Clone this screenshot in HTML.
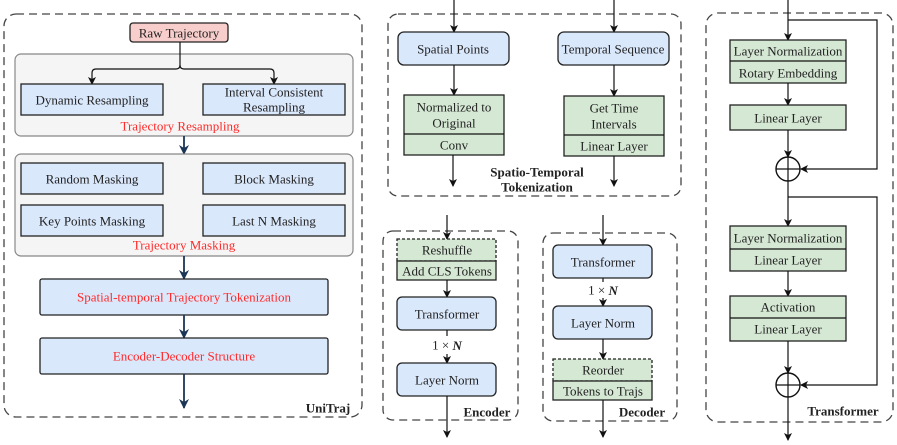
<!DOCTYPE html>
<html><head><meta charset="utf-8"><style>
body{margin:0;background:#fff}
svg{display:block}
text{font-family:"Liberation Serif",serif;font-size:13px;fill:#222;text-anchor:middle;dominant-baseline:central}
.b{font-weight:bold}
.r{fill:#ff2a2a}
.dash{fill:none;stroke:#444;stroke-width:1.3;stroke-dasharray:8,5}
.blue{fill:#dae8fc;stroke:#222;stroke-width:1.3}
.green{fill:#d5e8d4;stroke:#222;stroke-width:1.3}
.grp{fill:#f5f5f5;stroke:#888;stroke-width:1.2}
.ln{stroke:#111;stroke-width:1.2;fill:none}
.nv{stroke:#1b3556;stroke-width:1.8;fill:none}
</style></head><body>
<svg width="897" height="445" viewBox="0 0 897 445" xmlns="http://www.w3.org/2000/svg">
<defs>
<marker id="a" markerWidth="8" markerHeight="8" refX="7" refY="4" orient="auto" markerUnits="userSpaceOnUse"><path d="M0,0 L8,4 L0,8 L2,4Z" fill="#111"/></marker>
<marker id="n" markerWidth="10" markerHeight="10" refX="9" refY="5" orient="auto" markerUnits="userSpaceOnUse"><path d="M0,0 L10,5 L0,10 L3,5Z" fill="#1b3556"/></marker>
</defs>

<!-- LEFT PANEL -->
<rect class="dash" x="4" y="14" width="358" height="403" rx="12"/>
<rect x="130" y="23" width="98" height="19" rx="3" fill="#f8cecc" stroke="#222" stroke-width="1.3"/>
<text x="179" y="33">Raw Trajectory</text>
<rect class="grp" x="15" y="54" width="338" height="82" rx="6"/>
<path class="ln" d="M180,42 V65 Q180,69 176,69 H96 Q92,69 92,73 V84" marker-end="url(#a)"/>
<path class="ln" d="M180,65 Q180,69 184,69 H270 Q274,69 274,73 V84" marker-end="url(#a)"/>
<rect class="blue" x="21" y="84" width="142" height="31"/>
<text x="92" y="100">Dynamic Resampling</text>
<rect class="blue" x="203" y="84" width="142" height="31"/>
<text x="274" y="92">Interval Consistent</text>
<text x="274" y="107">Resampling</text>
<text class="r" x="180" y="126">Trajectory Resampling</text>
<path class="nv" d="M184,136 V154" marker-end="url(#n)"/>
<rect class="grp" x="15" y="154" width="338" height="102" rx="6"/>
<rect class="blue" x="21" y="163" width="142" height="31"/>
<text x="92" y="179">Random Masking</text>
<rect class="blue" x="203" y="163" width="142" height="31"/>
<text x="274" y="179">Block Masking</text>
<rect class="blue" x="21" y="205" width="142" height="31"/>
<text x="92" y="221">Key Points Masking</text>
<rect class="blue" x="203" y="205" width="142" height="31"/>
<text x="274" y="221">Last N Masking</text>
<text class="r" x="184" y="245">Trajectory Masking</text>
<path class="nv" d="M184,256 V279" marker-end="url(#n)"/>
<rect class="blue" x="40" y="279" width="288" height="36" rx="2"/>
<text class="r" x="184" y="297">Spatial-temporal Trajectory Tokenization</text>
<path class="nv" d="M184,315 V338" marker-end="url(#n)"/>
<rect class="blue" x="40" y="338" width="288" height="36" rx="2"/>
<text class="r" x="184" y="356">Encoder-Decoder Structure</text>
<path class="nv" d="M184,374 V408" marker-end="url(#n)"/>
<text class="b" x="328" y="408">UniTraj</text>

<!-- MIDDLE TOP -->
<rect class="dash" x="388" y="14" width="293" height="182" rx="10"/>
<path class="ln" d="M454,0 V32" marker-end="url(#a)"/>
<path class="ln" d="M614,0 V32" marker-end="url(#a)"/>
<rect class="blue" x="398" y="32" width="111" height="33" rx="6"/>
<text x="453" y="49">Spatial Points</text>
<rect class="blue" x="558" y="32" width="111" height="33" rx="6"/>
<text x="613" y="49">Temporal Sequence</text>
<path class="ln" d="M454,65 V95" marker-end="url(#a)"/>
<path class="ln" d="M614,65 V96" marker-end="url(#a)"/>
<rect class="green" x="404" y="95" width="100" height="60"/>
<line class="ln" x1="404" y1="134" x2="504" y2="134"/>
<text x="454" y="107">Normalized to</text>
<text x="454" y="123">Original</text>
<text x="454" y="145">Conv</text>
<rect class="green" x="564" y="96" width="100" height="60"/>
<line class="ln" x1="564" y1="135" x2="664" y2="135"/>
<text x="614" y="108">Get Time</text>
<text x="614" y="124">Intervals</text>
<text x="614" y="146">Linear Layer</text>
<path class="ln" d="M453,155 V186" marker-end="url(#a)"/>
<path class="ln" d="M614,156 V186" marker-end="url(#a)"/>
<text class="b" x="537" y="172">Spatio-Temporal</text>
<text class="b" x="537" y="187">Tokenization</text>

<!-- ENCODER -->
<rect class="dash" x="383" y="231" width="135" height="189" rx="10"/>
<path class="ln" d="M447,215 V239" marker-end="url(#a)"/>
<rect class="green" x="397" y="239" width="99" height="22" style="stroke-dasharray:3,2"/>
<text x="447" y="250">Reshuffle</text>
<rect class="green" x="397" y="261" width="99" height="19"/>
<text x="447" y="271">Add CLS Tokens</text>
<path class="ln" d="M447,280 V297" marker-end="url(#a)"/>
<rect class="blue" x="397" y="297" width="99" height="33" rx="5"/>
<text x="447" y="314">Transformer</text>
<line class="ln" x1="447" y1="330" x2="447" y2="336"/>
<text x="447" y="345" style="font-size:13px">1 × <tspan font-style="italic" font-weight="bold">N</tspan></text>
<path class="ln" d="M447,354 V363" marker-end="url(#a)"/>
<rect class="blue" x="397" y="363" width="99" height="33" rx="5"/>
<text x="447" y="380">Layer Norm</text>
<path class="ln" d="M447,396 V437" marker-end="url(#a)"/>
<text class="b" x="487" y="412">Encoder</text>

<!-- DECODER -->
<rect class="dash" x="543" y="233" width="134" height="188" rx="10"/>
<path class="ln" d="M603,215 V245" marker-end="url(#a)"/>
<rect class="blue" x="553" y="245" width="99" height="33" rx="5"/>
<text x="603" y="262">Transformer</text>
<line class="ln" x1="603" y1="278" x2="603" y2="282"/>
<text x="603" y="290" style="font-size:13px">1 × <tspan font-style="italic" font-weight="bold">N</tspan></text>
<path class="ln" d="M603,298 V306" marker-end="url(#a)"/>
<rect class="blue" x="553" y="306" width="99" height="33" rx="5"/>
<text x="603" y="323">Layer Norm</text>
<path class="ln" d="M603,339 V359" marker-end="url(#a)"/>
<rect class="green" x="553" y="359" width="99" height="22" style="stroke-dasharray:3,2"/>
<text x="603" y="370">Reorder</text>
<rect class="green" x="553" y="381" width="99" height="19"/>
<text x="603" y="391">Tokens to Trajs</text>
<path class="ln" d="M603,400 V437" marker-end="url(#a)"/>
<text class="b" x="642" y="412">Decoder</text>

<!-- TRANSFORMER -->
<rect class="dash" x="706" y="13" width="187" height="409" rx="12"/>
<path class="ln" d="M788,0 V40" marker-end="url(#a)"/>
<path class="ln" d="M788,20 H877 V169 H801" marker-end="url(#a)"/>
<rect class="green" x="730" y="40" width="116" height="43"/>
<line class="ln" x1="730" y1="61" x2="846" y2="61"/>
<text x="788" y="51">Layer Normalization</text>
<text x="788" y="73">Rotary Embedding</text>
<path class="ln" d="M788,83 V105" marker-end="url(#a)"/>
<rect class="green" x="730" y="105" width="116" height="25"/>
<text x="788" y="118">Linear Layer</text>
<path class="ln" d="M788,130 V157" marker-end="url(#a)"/>
<circle cx="788" cy="169" r="12" fill="none" stroke="#111" stroke-width="1.4"/>
<path class="ln" d="M776,169 H800 M788,157 V181"/>
<path class="ln" d="M788,181 V226" marker-end="url(#a)"/>
<path class="ln" d="M788,197 H877 V385 H801" marker-end="url(#a)"/>
<rect class="green" x="730" y="226" width="116" height="45"/>
<line class="ln" x1="730" y1="249" x2="846" y2="249"/>
<text x="788" y="238">Layer Normalization</text>
<text x="788" y="260">Linear Layer</text>
<path class="ln" d="M788,271 V296" marker-end="url(#a)"/>
<rect class="green" x="730" y="296" width="116" height="45"/>
<line class="ln" x1="730" y1="318" x2="846" y2="318"/>
<text x="788" y="307">Activation</text>
<text x="788" y="329">Linear Layer</text>
<path class="ln" d="M788,341 V373" marker-end="url(#a)"/>
<circle cx="788" cy="385" r="12" fill="none" stroke="#111" stroke-width="1.4"/>
<path class="ln" d="M776,385 H800 M788,373 V397"/>
<path class="ln" d="M788,397 V440" marker-end="url(#a)"/>
<text class="b" x="843" y="411">Transformer</text>
</svg>
</body></html>
